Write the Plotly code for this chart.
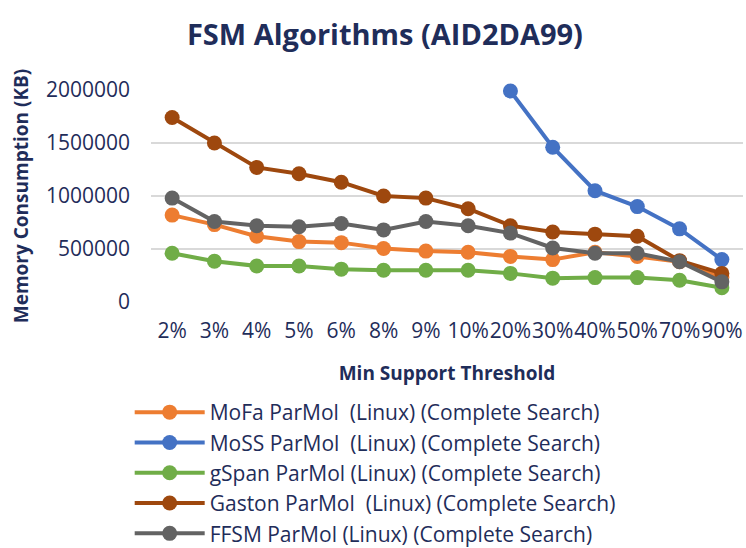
import plotly.graph_objects as go

categories = ["2%", "3%", "4%", "5%", "6%", "8%", "9%", "10%", "20%", "30%", "40%", "50%", "70%", "90%"]
mofa = [820000, 730000, 620000, 570000, 560000, 505000, 480000, 470000, 430000, 400000, 470000, 430000, 380000, 230000]
moss = [None, None, None, None, None, None, None, None, 1990000, 1460000, 1050000, 900000, 690000, 400000]
gspan = [460000, 385000, 340000, 340000, 310000, 300000, 300000, 300000, 270000, 225000, 230000, 230000, 205000, 135000]
gaston = [1740000, 1500000, 1270000, 1210000, 1130000, 1000000, 980000, 880000, 720000, 660000, 640000, 620000, 390000, 270000]
ffsm = [980000, 760000, 720000, 710000, 740000, 680000, 760000, 720000, 650000, 510000, 460000, 460000, 380000, 190000]

series_names = [
    "MoFa ParMol  (Linux) (Complete Search)",
    "MoSS ParMol  (Linux) (Complete Search)",
    "gSpan ParMol (Linux) (Complete Search)",
    "Gaston ParMol  (Linux) (Complete Search)",
    "FFSM ParMol (Linux) (Complete Search)",
]
series_values = [mofa, moss, gspan, gaston, ffsm]
colors = ["#ED7D31", "#4472C4", "#70AD47", "#9E480E", "#636363"]

navy = "#1F2D5A"
font_family = "'Open Sans', sans-serif"

fig = go.Figure()
for i, (name, vals, c) in enumerate(zip(series_names, series_values, colors)):
    fig.add_trace(go.Scatter(
        x=categories, y=vals, name=name, mode="lines+markers",
        line=dict(color=c, width=4),
        marker=dict(color=c, size=15),
        cliponaxis=False, legendgroup=f"g{i}",
    ))

fig.update_layout(
    width=746, height=548,
    paper_bgcolor="white", plot_bgcolor="white",
    margin=dict(l=151, r=3, t=90, b=246, autoexpand=False),
    font=dict(family=font_family, color=navy, size=21),
    title=dict(text="<b>FSM Algorithms (AID2DA99)</b>", x=0.516, xanchor="center",
               y=1 - 35 / 548, yanchor="middle", font=dict(size=29, color=navy)),
    xaxis=dict(
        type="category", range=[-0.5, 13.5], showgrid=False, zeroline=False,
        automargin=False, tickangle=0,
        tickfont=dict(size=21, color=navy), ticks="", ticklabelstandoff=14,
        title=dict(text="<b>Min Support Threshold</b>", font=dict(size=19, color=navy), standoff=23),
    ),
    yaxis=dict(
        range=[0, 2000000], tickvals=[0, 500000, 1000000, 1500000, 2000000],
        ticktext=["0", "500000", "1000000", "1500000", "2000000"],
        showgrid=True, gridcolor="#D9D9D9", gridwidth=1.5, zeroline=False,
        automargin=False,
        tickfont=dict(size=21, color=navy), ticklabelstandoff=20,
        title=dict(text="<b>Memory Consumption (KB)</b>", font=dict(size=19, color=navy), standoff=12),
    ),
    legend=dict(
        orientation="v", x=-0.036, xanchor="left",
        yref="container", y=1 - 392 / 548, yanchor="top",
        font=dict(size=21, color=navy), bgcolor="rgba(0,0,0,0)",
        itemwidth=70, tracegroupgap=0,
    ),
)

fig.write_html("out.html", config={"displayModeBar": False},
               post_script="document.body.style.margin='0px';document.body.style.overflow='hidden';")
